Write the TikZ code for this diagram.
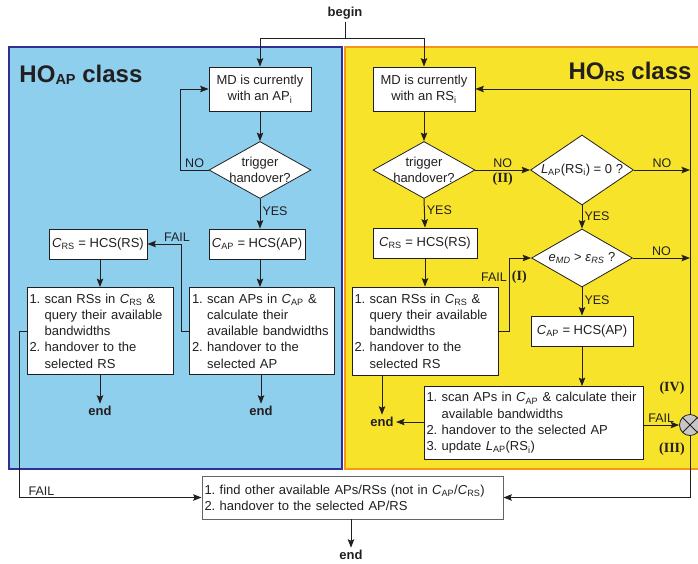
\documentclass[tikz,border=0pt]{standalone}
\usepackage{fontspec}
\setmainfont{Liberation Sans}
\newfontfamily\romfont{Liberation Serif}
\usetikzlibrary{shapes.geometric,arrows.meta}

\newlength\unitL
\setlength\unitL{1pt}

\definecolor{apblue}{RGB}{142,207,238}
\definecolor{apborder}{RGB}{46,49,146}
\definecolor{rsyellow}{RGB}{247,228,42}
\definecolor{rsborder}{RGB}{247,148,29}
\definecolor{ink}{RGB}{35,31,32}

\newcommand{\CAP}{\textit{C}\textsubscript{AP}}
\newcommand{\CRS}{\textit{C}\textsubscript{RS}}
\newcommand{\LAP}{\textit{L}\textsubscript{AP}}
\newcommand{\listind}{\hphantom{1.~}}
\newcommand{\titlesub}[1]{\raisebox{-2.5pt}{\fontsize{14.5}{14.5}\selectfont #1}}

\begin{document}
\begin{tikzpicture}[x=\unitL, y=-\unitL, >={Stealth[length=8.5pt, width=6.5pt, inset=1.5pt]}, line width=1pt, color=ink,
    font=\fontsize{13}{16.3}\selectfont,
    box/.style={draw=ink, fill=white, line width=0.8pt, inner sep=2.5pt, align=center},
    listbox/.style={box, align=left},
    decision/.style={diamond, draw=ink, fill=white, line width=0.8pt, inner sep=-3pt,
        aspect=1.8, minimum width=102pt, minimum height=57pt, align=center},
    term/.style={font=\bfseries\fontsize{13}{15}\selectfont, inner sep=2pt},
    lab/.style={font=\fontsize{12.5}{14}\selectfont, inner sep=2pt},
    rom/.style={font={\romfont\bfseries\fontsize{14}{16}\selectfont}, inner sep=2pt},
    title/.style={font=\bfseries\fontsize{24}{28}\selectfont, inner sep=0pt}]

    \useasboundingbox (0,0) rectangle (698,563);

    % === Class panels ===
    \draw[fill=apblue, draw=apborder, line width=2.4pt] (9,47) rectangle (342,469);
    \draw[fill=rsyellow, draw=rsborder, line width=2.4pt] (345,47) rectangle (712,469);
    \node[title, anchor=base west] (aptitle) at (19,82) {HO\titlesub{AP} class};
    \node[title, anchor=base east] (rstitle) at (692,79) {HO\titlesub{RS} class};

    % === Start ===
    \node[term] (begin) at (345,13) {begin};
    \coordinate (split) at (345,38);

    % === HO_AP class ===
    \node[box, minimum width=102pt, minimum height=44pt] (mdap) at (260,89)
        {MD is currently\\with an AP\textsubscript{i}};
    \node[decision] (trigap) at (260,170) {trigger\\handover?};
    \node[box, minimum width=96pt, minimum height=30pt] (capl) at (257,244) {\CAP{} = HCS(AP)};
    \node[box, minimum width=98pt, minimum height=30pt] (crsl) at (98,244) {\CRS{} = HCS(RS)};
    \node[listbox, minimum width=146pt, minimum height=87pt, text width=141pt] (scanrsl) at (100,331)
        {1.~scan RSs in \CRS{} \&\\
         \listind query their available\\
         \listind bandwidths\\
         2.~handover to the\\
         \listind selected RS};
    \node[listbox, minimum width=145pt, minimum height=87pt, text width=140pt] (scanap) at (262,331)
        {1.~scan APs in \CAP{} \&\\
         \listind calculate their\\
         \listind available bandwidths\\
         2.~handover to the\\
         \listind selected AP};
    \node[term] (endrsl) at (100,411) {end};
    \node[term] (endap) at (261,411) {end};

    % === HO_RS class ===
    \node[box, minimum width=102pt, minimum height=44pt] (mdrs) at (424,89)
        {MD is currently\\with an RS\textsubscript{i}};
    \node[decision] (trigrs) at (424,170) {trigger\\handover?};
    \node[decision, aspect=1.5, minimum width=103pt, minimum height=70pt] (lap) at (582,170)
        {\LAP(RS\textsubscript{i}) = 0 ?};
    \node[box, minimum width=104pt, minimum height=30pt] (crsr) at (425,243) {\CRS{} = HCS(RS)};
    \node[decision, aspect=1.7, minimum width=101pt, minimum height=58pt] (emd) at (582,258)
        {\textit{e}\textsubscript{\itshape MD} > \textit{ε}\textsubscript{\itshape RS} ?};
    \node[listbox, minimum width=146pt, minimum height=88pt, text width=141pt] (scanrsr) at (425,331)
        {1.~scan RSs in \CRS{} \&\\
         \listind query their available\\
         \listind bandwidths\\
         2.~handover to the\\
         \listind selected RS};
    \node[box, minimum width=102pt, minimum height=30pt] (capr) at (582,331) {\CAP{} = HCS(AP)};
    \node[listbox, minimum width=219pt, minimum height=73pt, text width=214pt] (scanapr) at (533.5,423)
        {1.~scan APs in \CAP{} \& calculate their\\
         \listind available bandwidths\\
         2.~handover to the selected AP\\
         3.~update \LAP(RS\textsubscript{i})};
    \node[term] (endr) at (382,422) {end};
    \node[circle, draw=ink, fill=black!22, line width=0.8pt, minimum size=21pt, inner sep=0pt,
        path picture={\draw[line width=0.8pt] (path picture bounding box.north west) -- (path picture bounding box.south east)
            (path picture bounding box.south west) -- (path picture bounding box.north east);}] (merge) at (690,425) {};
    \node[rom] (niv) at (672,388) {(IV)};
    \node[rom] (niii) at (672,449) {(III)};

    % === Fallback ===
    \node[listbox, draw=ink!70, minimum width=301pt, minimum height=43pt, text width=296pt] (other) at (352.5,497.5)
        {1.~find other available APs/RSs (not in \CAP/\CRS)\\
         2.~handover to the selected AP/RS};
    \node[term] (endall) at (351,555) {end};

    % === Connectors: start ===
    \draw (begin) -- (split);
    \draw[->] (split) -| (mdap);
    \draw[->] (split) -| (mdrs);

    % === Connectors: HO_AP ===
    \draw[->] (mdap) -- (trigap);
    \draw[->] (trigap.west) -- node[lab, above] {NO} ++(-28,0) |- (mdap.west);
    \draw[->] (trigap.south) -- node[lab, right, pos=0.4] {YES} (trigap.south |- capl.north);
    \draw[->] (trigap.south |- capl.south) -- (trigap.south |- scanap.north);
    \draw[->] (scanap.west) -- ++(-8,0) |- node[lab, above, pos=0.56] {FAIL} (crsl.east);
    \draw[->] (crsl.south -| scanrsl) -- (scanrsl.north);
    \draw[->] (scanrsl.south) -- (endrsl.north);
    \draw[->] (scanap.south -| endap) -- (endap.north);
    \draw[->] (scanrsl.west) -- ++(-7,0) |- node[lab, above, pos=0.56] {FAIL} (other.west);

    % === Connectors: HO_RS ===
    \draw[->] (mdrs) -- (trigrs);
    \draw[->] (trigrs.east) -- node[lab, above] {NO} node[rom, below] {(II)} (lap.west);
    \draw[->] (lap.east) -- node[lab, above] {NO} (lap.east -| merge);
    \draw[->] (trigrs.south) -- node[lab, right, pos=0.4] {YES} (crsr.north);
    \draw[->] (lap.south) -- node[lab, right, pos=0.45] {YES} (emd.north);
    \draw[->] (emd.east) -- node[lab, above] {NO} (emd.east -| merge);
    \draw[->] (crsr) -- (scanrsr);
    \draw[->] (scanrsr.east) -- ++(11,0) |- node[lab, left, pos=0.37] {FAIL} node[rom, right, pos=0.37] {(I)} (emd.west);
    \draw[->] (emd.south) -- node[lab, right, pos=0.45] {YES} (capr.north);
    \draw[->] (capr) -- (capr |- scanapr.north);
    \draw[->] (scanrsr.south -| endr) -- (endr.north);
    \draw[->] (scanapr.west |- endr) -- (endr.east);
    \draw[->] (scanapr.east |- merge) -- node[lab, above] {FAIL} (merge.west);
    \draw[->] (merge.north) -- (merge.north |- mdrs.east) -- (mdrs.east);
    \draw[->] (merge.south) |- (other.east);

    % === Connectors: fallback ===
    \draw[->] (other.south -| endall) -- (endall.north);

\end{tikzpicture}
\end{document}
